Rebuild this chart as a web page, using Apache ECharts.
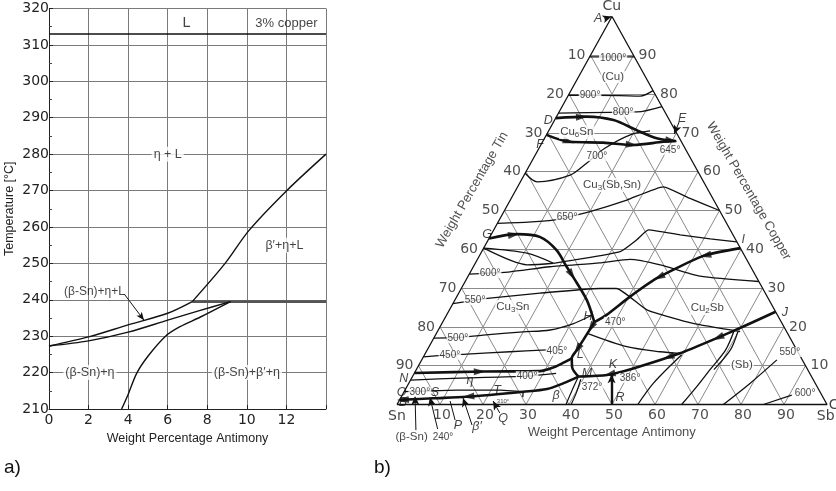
<!DOCTYPE html>
<html>
<head>
<meta charset="utf-8">
<script src="https://cdn.jsdelivr.net/npm/echarts@6/dist/echarts.min.js"></script>
<style>
html,body{margin:0;padding:0;background:#fff;}
#chart{width:836px;height:491px;}
</style>
</head>
<body>
<div id="chart"></div>
<script>
// ================= Panel a): section at 3 % copper =================
const aSbTicks = [0, 2, 4, 6, 8, 10, 12];
const aSbMax = 14;
const aTempTicks = [210, 220, 230, 240, 250, 260, 270, 280, 290, 300, 310, 320];
const aLiquidus = [[0, 313], [14, 313]];
const aPeritectic = [[7.24, 239.5], [14, 239.5]];
const aBetaPrimeBoundary = [[7.24, 239.5], [8.9, 250], [10.1, 259], [12, 269.9], [14, 280]];
const aUpperBoundary = [[0, 227.3], [2, 229.8], [4, 233.1], [6, 236.3], [7.24, 239.5]];
const aLowerBoundary = [[0, 227.3], [2, 228.7], [4, 231.1], [6, 234.4], [7.6, 237], [9.17, 239.5]];
const aSolvus = [[3.67, 210], [4.0, 214], [4.43, 219.8], [5.0, 224.5], [5.89, 230], [6.62, 232.6], [7.63, 235.2], [9.17, 239.5]];
const aPointer = [[3.8, 241.6], [4.8, 234.4]];
const aFieldLabels = [['L', 6.95, 315.9], ['3% copper', 12.0, 316.0], ['(β-Sn)+η+L', 2.3, 242.2]];
const aFieldLabelsBoxed = [['η + L', 6.0, 280], ['β′+η+L', 11.9, 255], ['(β-Sn)+η', 2.07, 220], ['(β-Sn)+β′+η', 10.0, 220]];

// ================= Panel b): Cu-Sb-Sn ternary (points are [Sb %, Cu %]) =================
const tGridSteps = [10, 20, 30, 40, 50, 60, 70, 80, 90];
const tinTicks = [10, 20, 30, 40, 50, 60, 70, 80, 90];
const copperTicks = [10, 20, 30, 40, 50, 60, 70, 80, 90];
const antimonyTicks = [10, 20, 30, 40, 50, 60, 70, 80, 90];

const iso1000 = [[0, 89.6], [10.4, 89.6]];
const iso900 = [[0, 79.7], [12, 79.6], [16.8, 79.5], [19.1, 80.9]];
const iso800 = [[0, 75.1], [11.9, 75.3], [18.1, 75.4], [23.2, 76.8]];
const iso700 = [[0, 59.6], [3.9, 57.4], [10.7, 59.1], [13.0, 62.2], [15.2, 65.9], [19.5, 69.5], [23.6, 70.5]];
const iso650 = [[0, 46.7], [7, 47], [13, 47.6], [15.3, 48.2], [20, 49.7], [27.1, 52.7], [33.9, 56.1], [41.6, 53.1], [50, 50]];
const lensUpper = [[0, 40.3], [10.7, 39], [18.2, 36.4]];
const lensLower = [[0, 40.3], [7.7, 37.2], [12.3, 36], [18.2, 36.4]];
const lensTail = [[18.2, 36.4], [22.4, 37.2], [32.2, 39.4], [34.5, 42.4], [36, 45], [44, 43.7], [51.5, 42.7], [58.1, 41.9]];
const iso600 = [[0, 33.6], [4.7, 33.9], [9.2, 34.2], [17.8, 35.5], [28.9, 36.5], [35.5, 37.4], [43.2, 36], [53.9, 33.1], [68.3, 31.7]];
const iso550 = [[0, 26], [4.7, 26.9], [7.9, 27.4], [18.9, 28.7], [32.2, 29.9], [36.1, 29.9], [45.9, 24.4], [58.4, 20.9], [70.4, 18.8]];
const iso500 = [[0, 17.1], [5.6, 17.3], [11.1, 17.9], [20, 18.7], [26, 19.2], [30.5, 20.8], [33.8, 23]];
const iso450 = [[0, 12.3], [5.9, 12.8], [9.7, 13], [19.5, 13.6], [27.8, 14.1]];
const iso400 = [[0, 6.3], [11.3, 6.8], [26.5, 7.3], [33, 8.0]];
const hBranch = [[34.9, 18.4], [46, 14.9], [54.4, 13.6], [59.2, 13.2]];
const stLine = [[0, 3.3], [12, 3.7], [22.1, 3.7], [27.7, 3.3], [28.3, 1.9]];
const mDownA = [[38.6, 7.2], [38.9, 3.5], [39.3, 0]];
const mDownB = [[39.5, 6.5], [40.2, 3], [40.5, 0]];
const lowA = [[56, 0], [56.9, 5.5], [59.8, 12.8]];
const lowB = [[66.2, 0], [67.5, 5], [68.3, 8.9], [69.4, 14], [68.9, 19]];
const lowB2 = [[69.2, 9], [70.5, 14], [69.9, 18.7]];
const iso550Sb = [[75.9, 0], [79.4, 5.5], [82.6, 11.5]];
const iso600Sb = [[85.2, 0], [90.6, 2.4]];

const valleyDE = [[0, 73.8], [7.0, 74.2], [13.7, 73.3], [20.4, 70.7], [26.1, 68.6], [30.7, 67.9]];
const valleyFE = [[0, 69.5], [6.4, 67.7], [14.2, 67.5], [21.5, 66.9], [28.1, 67.7], [31.0, 67.9]];
const valleyGH = [[0, 42.8], [5.9, 43.9], [11.6, 43.2], [17.2, 39.8], [21.7, 35.5], [24.5, 32.9], [30.7, 26.9], [35.3, 21.2]];
const valleyIH = [[59.7, 40.3], [52.1, 38.3], [44.1, 32.5], [40.3, 27.8], [37.2, 23.1], [35.3, 21.2]];
const valleyHLM = [[35.3, 21.2], [35.0, 16.6], [34.8, 14.0], [34.7, 11.9], [36, 9.5], [38.6, 7.2]];
const valleyNL = [[0, 8.1], [15.8, 8.5], [28.9, 8.6], [31.5, 9.5], [33.6, 11], [34.7, 11.9]];
const valleyJM = [[76.1, 23.9], [70.5, 20.1], [65.8, 17.1], [59.2, 13.2], [50.3, 9.3], [45, 7.6], [38.6, 7.2]];
const valleyMB = [[38.6, 7.2], [36, 5.5], [32.9, 4], [27.7, 3.3], [15.2, 2.0], [7.6, 1.6], [0, 1.2]];

// arrows on valleys: [curve, segment, fraction]
const valleyArrows = [
  [valleyDE, 0, 0.85], [valleyDE, 4, 0.8],
  [valleyFE, 0, 0.95], [valleyFE, 2, 0.95],
  [valleyGH, 0, 0.9], [valleyGH, 4, 0.8],
  [valleyIH, 0, 0.95], [valleyIH, 1, 0.95],
  [valleyHLM, 0, 0.3], [valleyHLM, 1, 0.9],
  [valleyNL, 0, 0.95],
  [valleyJM, 1, 0.95], [valleyJM, 3, 0.25], [valleyJM, 4, 0.9],
  [valleyMB, 3, 0.97], [valleyMB, 5, 0.9]
];
// pointer lines [from, to]
const thickPointers = [[[49.9, 0], [46, 7.8]]];
const thinPointers = [
  [[-1.5, 99.4], [-0.1, 100]], [[29.2, 72.8], [29.6, 69.7]],
  [[7.7, -6.6], [3.1, 2.2]], [[12.6, -6.3], [6.7, 1.9]],
  [[20.1, -5.3], [14.5, 1.7]], [[25.0, -2.2], [21.9, 0.9]]
];
const plainPointers = [[[15.5, -4.0], [11.9, 0.9]]];

const pointLetters = [['A', -2.9, 99.4], ['D', -1.4, 73.2], ['E', 29.4, 73.8], ['F', -0.2, 66.9], ['G', -1, 43.9],
  ['H', 33.1, 22.6], ['I', 59.3, 42.4], ['J', 78.4, 23.6], ['K', 45.1, 10.2], ['L', 36.2, 12.8], ['M', 40.1, 8.1],
  ['N', -1.8, 6.8], ['O', -0.5, 3.2], ['B', 1.1, 0.6], ['S', 7.2, 3.2], ['T', 21.4, 3.7], ['Q', 26.5, -3.7],
  ['P', 16.8, -5.3], ['R', 50.9, 1.9], ['β', 35.9, 2.2], ['β′', 21.5, -5.8], ['η', 13.8, 6.3]];
const tempLabels = [['1000°', 5.6, 89.3], ['900°', 5.0, 79.8], ['800°', 14.9, 75.4], ['700°', 14.5, 64], ['645°', 30.7, 65.6],
  ['650°', 15.4, 48.3], ['600°', 4.7, 33.9], ['550°', 4.7, 26.9], ['500°', 5.6, 17.1], ['450°', 5.9, 12.8],
  ['405°', 30.3, 13.8], ['400°', 26.6, 7.3], ['470°', 40.1, 21.3], ['372°', 43.1, 4.5], ['386°', 50.8, 6.8],
  ['300°', 3.7, 3.2], ['240°', 14.9, -8.4], ['550°', 84.6, 13.5], ['600°', 93.4, 3.0]];
const tinyTempLabels = [['310°', 24.2, 0.9]];
const phaseLabels = [['(Cu)', 8.0, 84.4], ['Cu{s|6}Sn', 6.7, 70.2], ['Cu{s|3}(Sb,Sn)', 21.7, 56.6], ['Cu{s|3}Sn', 14.4, 25.1],
  ['Cu{s|2}Sb', 59.7, 24.9], ['(Sb)', 75.1, 10.2], ['(β-Sn)', 7.6, -8.4]];
const vertexLabels = [['Cu', -1.4, 102.7], ['Sn', 1.5, -3.0], ['Sb', 101.2, -3.0], ['C', 101.6, -0.1]];
const axisTitles = [['Weight Percentage Tin', -10.2, 55.3, 60], ['Weight Percentage Copper', 54.3, 55.0, -60], ['Weight Percentage Antimony', 53.5, -7.1, 0]];

// ================= geometry & helpers =================
const T = {x0: 397, y0: 404.5, sx: 4.3, sy: 3.88, xmin: -10, xmax: 102, ymin: -12, ymax: 104};
const tp = (sb, cu) => [sb + cu / 2, cu];
const SANS = 'Liberation Sans, Arial, sans-serif';
const DJ = 'DejaVu Sans, sans-serif';

function tLine(pts, w, smooth) {
  return {type: 'line', xAxisIndex: 1, yAxisIndex: 1, data: pts.map(p => tp(p[0], p[1])), symbol: 'none',
    smooth: smooth || 0, lineStyle: {color: '#111', width: w}, clip: false, silent: true, z: 3};
}
function aLine(pts, w, color) {
  return {type: 'line', xAxisIndex: 0, yAxisIndex: 0, data: pts, symbol: 'none', smooth: 0.3,
    lineStyle: {color: color || '#111', width: w}, clip: false, silent: true, z: 3};
}
function tText(list, lab, z) {
  return {type: 'scatter', xAxisIndex: 1, yAxisIndex: 1, symbolSize: 0, clip: false, silent: true, z: z || 10,
    data: list.map(d => ({name: d[0], value: tp(d[1], d[2])})),
    label: Object.assign({show: true, position: 'inside', formatter: p => p.name, color: '#111'}, lab)};
}
function aText(list, lab) {
  return {type: 'scatter', xAxisIndex: 0, yAxisIndex: 0, symbolSize: 0, clip: false, silent: true, z: 10,
    data: list.map(d => ({name: d[0], value: [d[1], d[2]]})),
    label: Object.assign({show: true, position: 'inside', formatter: p => p.name, color: '#111', fontFamily: SANS}, lab)};
}
function arrowItem(curve, seg, t) {
  const a = tp(curve[seg][0], curve[seg][1]), b = tp(curve[seg + 1][0], curve[seg + 1][1]);
  const x = a[0] + (b[0] - a[0]) * t, y = a[1] + (b[1] - a[1]) * t;
  const ang = Math.atan2((b[1] - a[1]) * T.sy, (b[0] - a[0]) * T.sx) * 180 / Math.PI;
  return {value: [x, y], symbolRotate: ang - 90};
}
function pointerSeries(list, width, withArrow) {
  return {type: 'line', xAxisIndex: 1, yAxisIndex: 1, data: [], clip: false, silent: true,
    markLine: {silent: true, animation: false, symbol: withArrow ? ['none', 'arrow'] : ['none', 'none'], symbolSize: [6, 9],
      label: {show: false}, lineStyle: {color: '#111', width: width, type: 'solid'},
      data: list.map(p => [{coord: tp(p[0][0], p[0][1])}, {coord: tp(p[1][0], p[1][1])}])}};
}

// ternary grid lines
const tGridLines = [];
tGridSteps.forEach(v => {
  tGridLines.push({coords: [tp(0, v), tp(100 - v, v)]});
  tGridLines.push({coords: [tp(v, 0), tp(v, 100 - v)]});
  tGridLines.push({coords: [tp(100 - v, 0), tp(0, 100 - v)]});
});

const subRich = {s: {fontSize: 8, padding: [6, 0, 0, 0], fontFamily: SANS, color: '#111'}};

const series = [
  // ---- panel a ----
  aLine(aLiquidus, 1.6),
  aLine(aPeritectic, 2.6, '#555'),
  aLine(aBetaPrimeBoundary, 1.4),
  aLine(aUpperBoundary, 1.4),
  aLine(aLowerBoundary, 1.4),
  aLine(aSolvus, 1.4),
  aText(aFieldLabels.slice(0, 1), {fontSize: 14.5}),
  aText(aFieldLabels.slice(1, 2), {fontSize: 13}),
  aText(aFieldLabels.slice(2), {fontSize: 12}),
  aText(aFieldLabelsBoxed, {fontSize: 12.5, backgroundColor: '#fff', padding: [1, 2]}),
  {type: 'line', xAxisIndex: 0, yAxisIndex: 0, data: [], silent: true,
    markLine: {silent: true, animation: false, symbol: ['none', 'arrow'], symbolSize: [5, 8], label: {show: false},
      lineStyle: {color: '#111', width: 1, type: 'solid'}, data: [[{coord: aPointer[0]}, {coord: aPointer[1]}]]}},
  // ---- panel b ----
  {type: 'lines', coordinateSystem: 'cartesian2d', xAxisIndex: 1, yAxisIndex: 1, silent: true, z: 1,
    data: tGridLines, lineStyle: {color: '#8a8a8a', width: 1, opacity: 1, curveness: 0}},
  tLine([[0, 0], [100, 0], [0, 100], [0, 0]], 1.3, 0),
  tLine(iso1000, 1.2), tLine(iso900, 1.3, 0.3), tLine(iso800, 1.3, 0.3), tLine(iso700, 1.3, 0.3),
  tLine(iso650, 1.3, 0.15), tLine(lensUpper, 1.3, 0.3), tLine(lensLower, 1.3, 0.3), tLine(lensTail, 1.3, 0.15),
  tLine(iso600, 1.3, 0.2), tLine(iso550, 1.3, 0.15), tLine(iso500, 1.3, 0.3), tLine(iso450, 1.3, 0.3),
  tLine(iso400, 1.3, 0.3), tLine(hBranch, 1.3, 0.3), tLine(stLine, 1.3, 0), tLine(mDownA, 1.2, 0.3),
  tLine(mDownB, 1.2, 0.3), tLine(lowA, 1.3, 0.3), tLine(lowB, 1.3, 0.3), tLine(lowB2, 1.2, 0.3),
  tLine(iso550Sb, 1.3, 0.3), tLine(iso600Sb, 1.3, 0.3),
  tLine(valleyDE, 2.6, 0.3), tLine(valleyFE, 2.6, 0.3), tLine(valleyGH, 2.6, 0.3), tLine(valleyIH, 2.6, 0.2),
  tLine(valleyHLM, 2.6, 0.3), tLine(valleyNL, 2.6, 0.3), tLine(valleyJM, 2.6, 0.2), tLine(valleyMB, 2.6, 0.3),
  {type: 'scatter', xAxisIndex: 1, yAxisIndex: 1, symbol: 'triangle', symbolSize: [7, 12], silent: true, clip: false, z: 6,
    itemStyle: {color: '#111'}, data: valleyArrows.map(a => arrowItem(a[0], a[1], a[2]))},
  pointerSeries(thickPointers, 2.4, true),
  pointerSeries(thinPointers, 1, true),
  pointerSeries(plainPointers, 1, false),
  // labels
  tText(tempLabels, {fontSize: 10, fontFamily: SANS, backgroundColor: '#fff', padding: [0, 1]}, 12),
  tText(tinyTempLabels, {fontSize: 6, fontFamily: SANS}, 12),
  tText(pointLetters, {fontSize: 12.5, fontStyle: 'italic', fontFamily: SANS}, 12),
  tText(phaseLabels, {fontSize: 11.5, fontFamily: SANS, backgroundColor: '#fff', padding: [0, 1], rich: subRich}, 12),
  tText(vertexLabels, {fontSize: 14, fontFamily: DJ}, 12),
  tText(tinTicks.map(v => [String(v), 0, 100 - v]), {fontSize: 14, fontFamily: DJ, align: 'right', offset: [-5, 0], color: '#222'}, 12),
  tText(copperTicks.map(v => [String(v), 100 - v, v]), {fontSize: 14, fontFamily: DJ, align: 'left', offset: [5, 0], color: '#222'}, 12),
  tText(antimonyTicks.map(v => [String(v), v, 0]), {fontSize: 14, fontFamily: DJ, offset: [2, 11], color: '#222'}, 12)
];
axisTitles.forEach(t => series.push(tText([[t[0], t[1], t[2]]], {fontSize: 13, fontFamily: SANS, rotate: t[3], color: '#222'}, 12)));

const chart = echarts.init(document.getElementById('chart'));
chart.setOption({
  animation: false,
  backgroundColor: '#fff',
  grid: [
    {left: 49, top: 8.5, width: 277, height: 400.5},
    {left: T.x0 + T.xmin * T.sx, top: T.y0 - T.ymax * T.sy, width: (T.xmax - T.xmin) * T.sx, height: (T.ymax - T.ymin) * T.sy}
  ],
  xAxis: [
    {gridIndex: 0, type: 'value', min: aSbTicks[0], max: aSbMax, interval: 2,
      axisLine: {show: true, lineStyle: {color: '#222', width: 1}},
      axisTick: {show: true, inside: true, length: 4, lineStyle: {color: '#222'}},
      axisLabel: {formatter: v => aSbTicks.indexOf(v) >= 0 ? String(v) : '', fontSize: 14, fontFamily: DJ, color: '#222', margin: 4},
      splitLine: {show: true, lineStyle: {color: '#7a7a7a', width: 1}},
      name: 'Weight Percentage Antimony', nameLocation: 'middle', nameGap: 21,
      nameTextStyle: {fontSize: 12.5, fontFamily: SANS, color: '#222'}},
    {gridIndex: 1, type: 'value', min: T.xmin, max: T.xmax, show: false, splitLine: {show: false}}
  ],
  yAxis: [
    {gridIndex: 0, type: 'value', min: aTempTicks[0], max: aTempTicks[aTempTicks.length - 1], interval: 10,
      axisLine: {show: true, lineStyle: {color: '#222', width: 1}},
      axisTick: {show: true, inside: true, length: 4, lineStyle: {color: '#222'}},
      minorTick: {show: true, splitNumber: 2, length: 3, lineStyle: {color: '#444'}},
      axisLabel: {formatter: v => aTempTicks.indexOf(v) >= 0 ? String(v) : '', fontSize: 14, fontFamily: DJ, color: '#222', margin: 0},
      splitLine: {show: true, lineStyle: {color: '#7a7a7a', width: 1}},
      name: 'Temperature [°C]', nameLocation: 'middle', nameGap: 33, nameRotate: 90,
      nameTextStyle: {fontSize: 12.5, fontFamily: SANS, color: '#222'}},
    {gridIndex: 1, type: 'value', min: T.ymin, max: T.ymax, show: false, splitLine: {show: false}}
  ],
  graphic: [
    {type: 'text', left: 4, top: 458, style: {text: 'a)', fontSize: 19, fontFamily: SANS, fill: '#111'}},
    {type: 'text', left: 374, top: 458, style: {text: 'b)', fontSize: 19, fontFamily: SANS, fill: '#111'}}
  ],
  series: series
});
</script>
</body>
</html>
